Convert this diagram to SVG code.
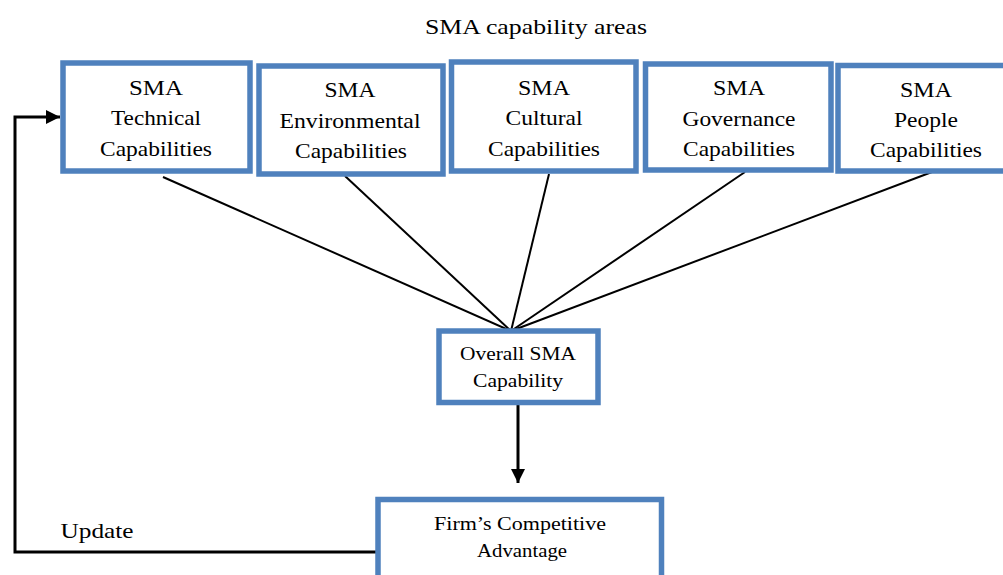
<svg xmlns="http://www.w3.org/2000/svg" width="1003" height="575" viewBox="0 0 1003 575">
<defs>
<marker id="ah" markerWidth="16" markerHeight="16" refX="14" refY="7.5" orient="auto" markerUnits="userSpaceOnUse">
<path d="M0,0.5 L14,7.5 L0,14.5 Z" fill="#000"/>
</marker>
<style>
.box{fill:#fff;stroke:#4F81BD;stroke-width:5.5}
.t{font-family:"Liberation Serif","Times New Roman",serif;fill:#000;text-anchor:middle}
.tb{font-size:21px}
.ts{font-size:18px}
.ln{stroke:#000;stroke-width:2;fill:none}
.thick{stroke-width:3}
</style>
</defs>
<rect width="1003" height="575" fill="#fff"/>
<text class="t tb" x="536" y="34" textLength="222" lengthAdjust="spacingAndGlyphs">SMA capability areas</text>
<g id="connectors">
<line class="ln" x1="163" y1="177" x2="511" y2="331"/>
<line class="ln" x1="345" y1="176" x2="511" y2="331"/>
<line class="ln" x1="549" y1="174" x2="511" y2="331"/>
<line class="ln" x1="745" y1="172" x2="511" y2="331"/>
<line class="ln" x1="932" y1="172" x2="511" y2="331"/>
<line class="ln thick" x1="518" y1="405" x2="518" y2="483" marker-end="url(#ah)"/>
<polyline class="ln thick" points="378,552 15,552 15,117 60,117" marker-end="url(#ah)"/>
<text class="t" x="97" y="538" font-size="22" textLength="73" lengthAdjust="spacingAndGlyphs">Update</text>
</g>
<g id="technical">
<rect class="box" x="63" y="63" width="187" height="108"/>
<text class="t tb" x="156" y="95" textLength="54" lengthAdjust="spacingAndGlyphs">SMA</text>
<text class="t tb" x="156" y="125" textLength="90" lengthAdjust="spacingAndGlyphs">Technical</text>
<text class="t tb" x="156" y="156" textLength="112" lengthAdjust="spacingAndGlyphs">Capabilities</text>
</g>
<g id="environmental">
<rect class="box" x="259" y="66" width="184" height="108"/>
<text class="t tb" x="350" y="97" textLength="51" lengthAdjust="spacingAndGlyphs">SMA</text>
<text class="t tb" x="350" y="128" textLength="141" lengthAdjust="spacingAndGlyphs">Environmental</text>
<text class="t tb" x="351" y="158" textLength="112" lengthAdjust="spacingAndGlyphs">Capabilities</text>
</g>
<g id="cultural">
<rect class="box" x="451.5" y="62" width="184.5" height="109"/>
<text class="t tb" x="544" y="95" textLength="52" lengthAdjust="spacingAndGlyphs">SMA</text>
<text class="t tb" x="544" y="125" textLength="77" lengthAdjust="spacingAndGlyphs">Cultural</text>
<text class="t tb" x="544" y="156" textLength="112" lengthAdjust="spacingAndGlyphs">Capabilities</text>
</g>
<g id="governance">
<rect class="box" x="645.5" y="64" width="185.5" height="106"/>
<text class="t tb" x="739" y="95" textLength="52" lengthAdjust="spacingAndGlyphs">SMA</text>
<text class="t tb" x="739" y="126" textLength="113" lengthAdjust="spacingAndGlyphs">Governance</text>
<text class="t tb" x="739" y="156" textLength="112" lengthAdjust="spacingAndGlyphs">Capabilities</text>
</g>
<g id="people">
<rect class="box" x="838" y="65.5" width="170" height="105.5"/>
<text class="t tb" x="926" y="97" textLength="52" lengthAdjust="spacingAndGlyphs">SMA</text>
<text class="t tb" x="926" y="127" textLength="64" lengthAdjust="spacingAndGlyphs">People</text>
<text class="t tb" x="926" y="157" textLength="112" lengthAdjust="spacingAndGlyphs">Capabilities</text>
</g>
<g id="overall">
<rect class="box" x="439" y="331" width="159" height="71.5"/>
<text class="t ts" x="518" y="360" textLength="116" lengthAdjust="spacingAndGlyphs">Overall SMA</text>
<text class="t ts" x="518" y="387" textLength="90" lengthAdjust="spacingAndGlyphs">Capability</text>
</g>
<g id="advantage">
<rect class="box" x="378" y="499.5" width="283.5" height="80"/>
<text class="t ts" x="520" y="530" textLength="172" lengthAdjust="spacingAndGlyphs">Firm’s Competitive</text>
<text class="t ts" x="522" y="557" textLength="90" lengthAdjust="spacingAndGlyphs">Advantage</text>
</g>
</svg>
